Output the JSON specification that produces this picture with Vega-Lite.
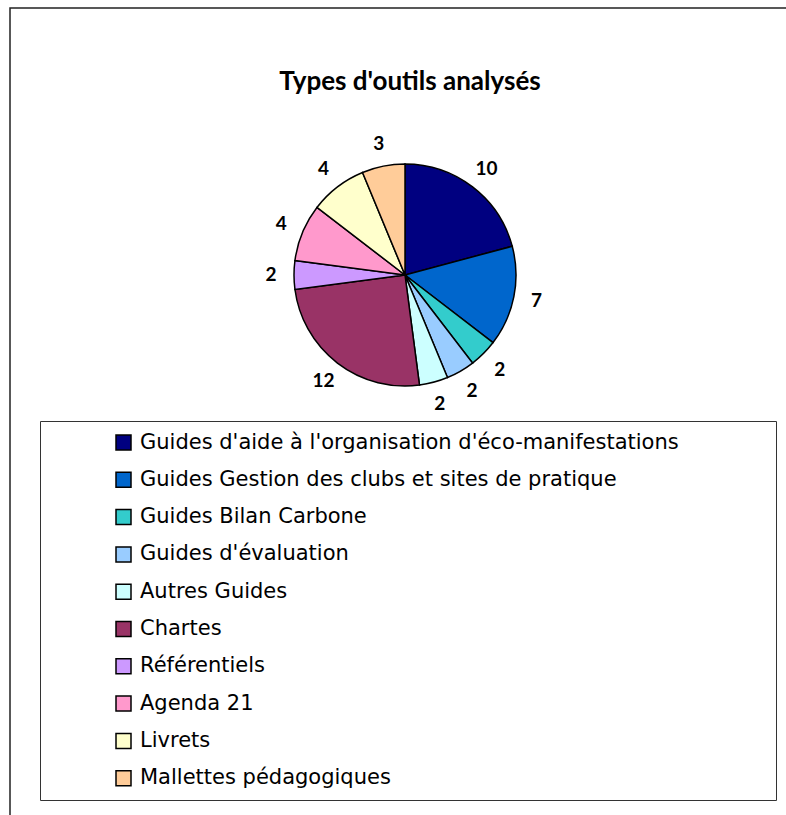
{
  "$schema": "https://vega.github.io/schema/vega-lite/v6.json",
  "width": 800,
  "height": 830,
  "autosize": {"type": "none"},
  "padding": {"left": 10, "top": 8, "right": 0, "bottom": 0},
  "background": "white",
  "title": {"text": "Types d'outils analysés", "font": "Lato", "fontSize": 26, "fontWeight": "bold", "color": "black", "offset": -88, "anchor": "middle", "frame": "group"},
  "data": {"values": [
    {"i": 1, "type": "Guides d'aide à l'organisation d'éco-manifestations", "n": 10},
    {"i": 2, "type": "Guides Gestion des clubs et sites de pratique", "n": 7},
    {"i": 3, "type": "Guides Bilan Carbone", "n": 2},
    {"i": 4, "type": "Guides d'évaluation", "n": 2},
    {"i": 5, "type": "Autres Guides", "n": 2},
    {"i": 6, "type": "Chartes", "n": 12},
    {"i": 7, "type": "Référentiels", "n": 2},
    {"i": 8, "type": "Agenda 21", "n": 4},
    {"i": 9, "type": "Livrets", "n": 4},
    {"i": 10, "type": "Mallettes pédagogiques", "n": 3}
  ]},
  "config": {
    "legend": {
      "orient": "none", "legendX": 30, "legendY": 413,
      "symbolType": "square", "symbolSize": 225, "symbolStrokeColor": "black", "symbolStrokeWidth": 1.5,
      "symbolOffset": 62, "labelFont": "DejaVu Sans", "labelFontSize": 21, "labelColor": "black",
      "labelOffset": 6, "rowPadding": 15.3, "padding": 11, "strokeColor": "#333", "labelLimit": 0,
      "titleOrient": "right", "titlePadding": 86, "titleFontSize": 10, "titleColor": "white"
    }
  },
  "layer": [
    {
      "data": {"values": [{"frame": 1}]},
      "mark": {"type": "rect", "x": 0, "y": 0, "x2": "width", "y2": "height", "fill": null, "stroke": "#222", "strokeWidth": 1.5},
      "encoding": {}
    },
    {
      "mark": {"type": "arc", "outerRadius": 111, "x": 395, "y": 267, "stroke": "black", "strokeWidth": 1.5},
      "encoding": {
        "theta": {"field": "n", "type": "quantitative", "stack": true},
        "order": {"field": "i", "type": "quantitative"},
        "color": {
          "field": "type", "type": "nominal",
          "scale": {
            "domain": ["Guides d'aide à l'organisation d'éco-manifestations", "Guides Gestion des clubs et sites de pratique", "Guides Bilan Carbone", "Guides d'évaluation", "Autres Guides", "Chartes", "Référentiels", "Agenda 21", "Livrets", "Mallettes pédagogiques"],
            "range": ["#000080", "#0066CC", "#33CCCC", "#99CCFF", "#CCFFFF", "#993366", "#CC99FF", "#FF99CC", "#FFFFCC", "#FFCC99"]
          },
          "legend": {"title": " "}
        }
      }
    },
    {
      "mark": {"type": "text", "radius": 134, "x": 395, "y": 267, "font": "Lato", "fontSize": 19, "fontWeight": "bold", "color": "black"},
      "encoding": {
        "theta": {"field": "n", "type": "quantitative", "stack": true},
        "order": {"field": "i", "type": "quantitative"},
        "text": {"field": "n", "type": "quantitative"}
      }
    }
  ]
}
